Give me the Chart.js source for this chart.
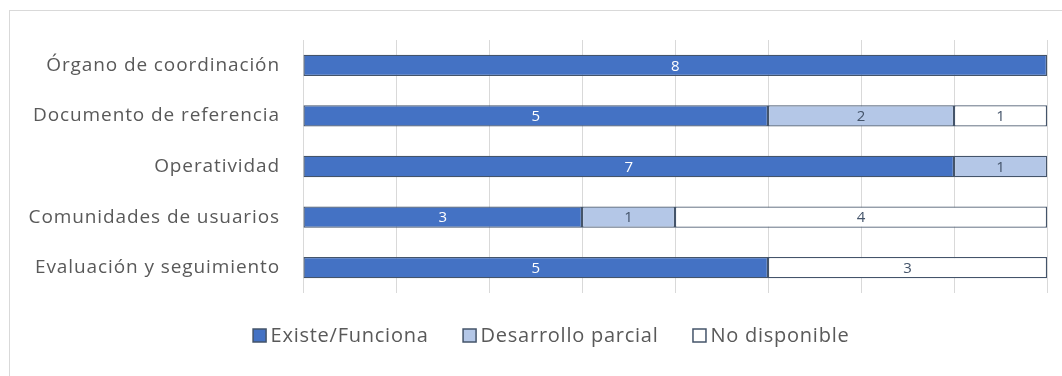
<!DOCTYPE html>
<html>
<head>
<meta charset="utf-8">
<script src="https://cdn.jsdelivr.net/npm/chart.js@4/dist/chart.umd.min.js"></script>
<style>
  html, body { margin: 0; padding: 0; background: #fff; overflow: hidden; }
  #wrap { position: relative; width: 1062px; height: 376px; }
  #frame { position: absolute; left: 9px; top: 10px; width: 1100px; height: 400px; border: 1px solid #D9D9D9; box-sizing: border-box; }
  canvas { position: absolute; left: 0; top: 0; }
</style>
</head>
<body>
<div id="wrap">
  <div id="frame"></div>
  <canvas id="c" width="1062" height="376"></canvas>
</div>
<script>
const categories = ["Órgano de coordinación", "Documento de referencia", "Operatividad", "Comunidades de usuarios", "Evaluación y seguimiento"];
const seriesNames = ["Existe/Funciona", "Desarrollo parcial", "No disponible"];
const existeFunciona = [8, 5, 7, 3, 5];
const desarrolloParcial = [0, 2, 1, 1, 0];
const noDisponible = [0, 1, 0, 4, 3];

const FONT = "'Open Sans', Lato, sans-serif";
const SPACING = "0.9px";
const fills = ["#4472C4", "#B4C7E7", "#FFFFFF"];
const labelColors = ["#FFFFFF", "#44546A", "#44546A"];
const edge = "#44546A";

const spacingPlugin = {
  id: "spacing",
  beforeDraw(chart) { try { chart.ctx.letterSpacing = SPACING; } catch (e) {} }
};

const valueLabels = {
  id: "valueLabels",
  afterDatasetsDraw(chart) {
    const ctx = chart.ctx;
    ctx.save();
    try { ctx.letterSpacing = "0px"; } catch (e) {}
    ctx.font = "15px " + FONT;
    ctx.textAlign = "center";
    ctx.textBaseline = "middle";
    chart.data.datasets.forEach((ds, i) => {
      const meta = chart.getDatasetMeta(i);
      meta.data.forEach((bar, j) => {
        const v = ds.data[j];
        if (!v) return;
        ctx.fillStyle = labelColors[i];
        ctx.fillText(String(v), (bar.x + bar.base) / 2, bar.y + 1);
      });
    });
    ctx.restore();
  }
};

const customLegend = {
  id: "customLegend",
  afterDraw(chart) {
    const ctx = chart.ctx;
    ctx.save();
    try { ctx.letterSpacing = "0.75px"; } catch (e) {}
    ctx.font = "20px " + FONT;
    ctx.textBaseline = "middle";
    ctx.textAlign = "left";
    const box = 13, gapText = 5, gapItem = 34;
    const items = chart.data.datasets.map(ds => ({ ds, w: box + gapText + ctx.measureText(ds.label).width }));
    const total = items.reduce((a, it) => a + it.w, 0) + gapItem * (items.length - 1);
    let x = 551 - total / 2;
    const y = chart.chartArea.bottom + 42;
    items.forEach(it => {
      ctx.fillStyle = it.ds.backgroundColor;
      ctx.fillRect(x + 0.5, y - box / 2 + 0.5, box, box);
      ctx.strokeStyle = edge;
      ctx.lineWidth = 1.5;
      ctx.strokeRect(x + 0.5, y - box / 2 + 0.5, box, box);
      ctx.fillStyle = "#595959";
      ctx.fillText(it.ds.label, x + box + gapText, y + 1);
      x += it.w + gapItem;
    });
    ctx.restore();
  }
};

const seriesData = [existeFunciona, desarrolloParcial, noDisponible];
new Chart(document.getElementById("c"), {
  type: "bar",
  data: {
    labels: categories,
    datasets: seriesNames.map((n, i) => ({
      label: n,
      data: seriesData[i],
      backgroundColor: fills[i],
      borderColor: edge,
      borderWidth: 1.25,
      borderSkipped: false,
      barPercentage: 0.6,
      categoryPercentage: 0.7
    }))
  },
  options: {
    indexAxis: "y",
    responsive: false,
    animation: false,
    layout: { padding: { top: 40, right: 15, left: 0, bottom: 83 } },
    scales: {
      x: {
        stacked: true, min: 0, max: 8,
        ticks: { display: false, stepSize: 1 },
        grid: { color: "#D9D9D9", lineWidth: 1, drawTicks: false },
        border: { display: false },
        afterFit(s) { s.height = 0; }
      },
      y: {
        stacked: true,
        ticks: { color: "#595959", font: { family: FONT, size: 19 }, padding: 23 },
        grid: { display: false, drawTicks: false },
        border: { display: false },
        afterFit(s) { s.width = 303; }
      }
    },
    plugins: {
      legend: { display: false },
      tooltip: { enabled: false }
    }
  },
  plugins: [spacingPlugin, valueLabels, customLegend]
});
</script>
</body>
</html>
